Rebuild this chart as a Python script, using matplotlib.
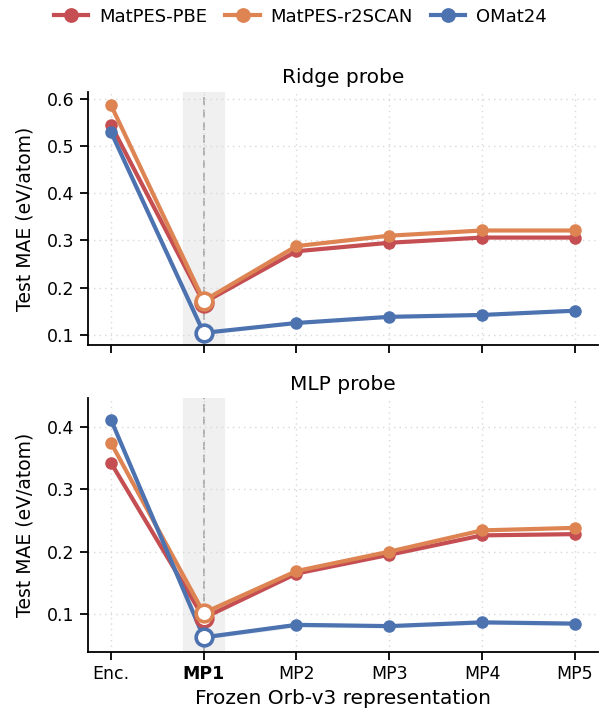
import numpy as np
import matplotlib
matplotlib.use("Agg")
import matplotlib.pyplot as plt

# Layer labels
layers = ["Enc.", "MP1", "MP2", "MP3", "MP4", "MP5"]
datasets = ["MatPES-PBE", "MatPES-r2SCAN", "OMat24"]
colors = ["#C44E52", "#DD8452", "#4C72B0"]

# Ridge probe MAE (eV/atom)
ridge_pbe = [0.545, 0.168, 0.277, 0.295, 0.306, 0.306]
ridge_r2scan = [0.587, 0.172, 0.288, 0.310, 0.321, 0.321]
ridge_omat = [0.530, 0.104, 0.125, 0.138, 0.142, 0.151]

# MLP probe MAE (eV/atom)
mlp_pbe = [0.342, 0.094, 0.165, 0.195, 0.226, 0.228]
mlp_r2scan = [0.374, 0.102, 0.169, 0.200, 0.234, 0.238]
mlp_omat = [0.411, 0.063, 0.083, 0.081, 0.087, 0.085]
mlp_omat_std = [0.003, 0.003, 0.004, 0.003, 0.003, 0.003]

ridge = [ridge_pbe, ridge_r2scan, ridge_omat]
mlp = [mlp_pbe, mlp_r2scan, mlp_omat]

plt.rcParams["font.family"] = ["DejaVu Sans"]

fig, axes = plt.subplots(2, 1, figsize=(6.01, 7.17), dpi=100, sharex=True)
fig.subplots_adjust(left=0.146, right=0.995, top=0.872, bottom=0.091, hspace=0.21)

x = np.arange(len(layers))
best = 1

for ax, data, title in zip(axes, [ridge, mlp], ["Ridge probe", "MLP probe"]):
    ax.axvspan(best - 0.22, best + 0.22, color="#f0f0f0", zorder=0)
    ax.axvline(best, color="#b0b0b0", ls=(0, (4, 2.5)), lw=1.4, zorder=1)
    for name, vals, c in zip(datasets, data, colors):
        vals = np.array(vals)
        ax.plot(x, vals, color=c, lw=3.0, marker="o", ms=8, label=name, zorder=3)
        ax.plot(x[best], vals[best], marker="o", ms=12, mfc="white", mec=c, mew=2.6,
                ls="none", zorder=4)
        if title == "MLP probe" and name == "OMat24":
            s = np.array(mlp_omat_std)
            ax.fill_between(x, vals - s, vals + s, color=c, alpha=0.15, lw=0, zorder=2)
    ax.set_title(title, fontsize=14.5)
    ax.set_ylabel("Test MAE (eV/atom)", fontsize=13.5, labelpad=9)
    ax.grid(True, ls=(0, (1, 3)), color="#d8d8d8", lw=1)
    ax.spines["top"].set_visible(False)
    ax.spines["right"].set_visible(False)
    ax.spines["left"].set_linewidth(1.3)
    ax.spines["bottom"].set_linewidth(1.3)
    ax.tick_params(direction="out", length=6, width=1.3, labelsize=12.5)
    ax.set_xlim(-0.25, 5.25)

axes[0].set_ylim(0.078, 0.615)
axes[0].set_yticks([0.1, 0.2, 0.3, 0.4, 0.5, 0.6])
axes[1].set_ylim(0.04, 0.445)
axes[1].set_yticks([0.1, 0.2, 0.3, 0.4])

axes[1].set_xticks(x)
axes[1].set_xticklabels(layers)
axes[1].get_xticklabels()[best].set_fontweight("bold")
axes[1].set_xlabel("Frozen Orb-v3 representation", fontsize=14.5)

handles, labels = axes[0].get_legend_handles_labels()
fig.legend(handles, labels, loc="upper center", ncol=3, frameon=False,
           fontsize=13, bbox_to_anchor=(0.5, 1.012), handlelength=1.9,
           columnspacing=1.0, handletextpad=0.6, markerscale=1.2)

fig.savefig("out.png", dpi=100)
